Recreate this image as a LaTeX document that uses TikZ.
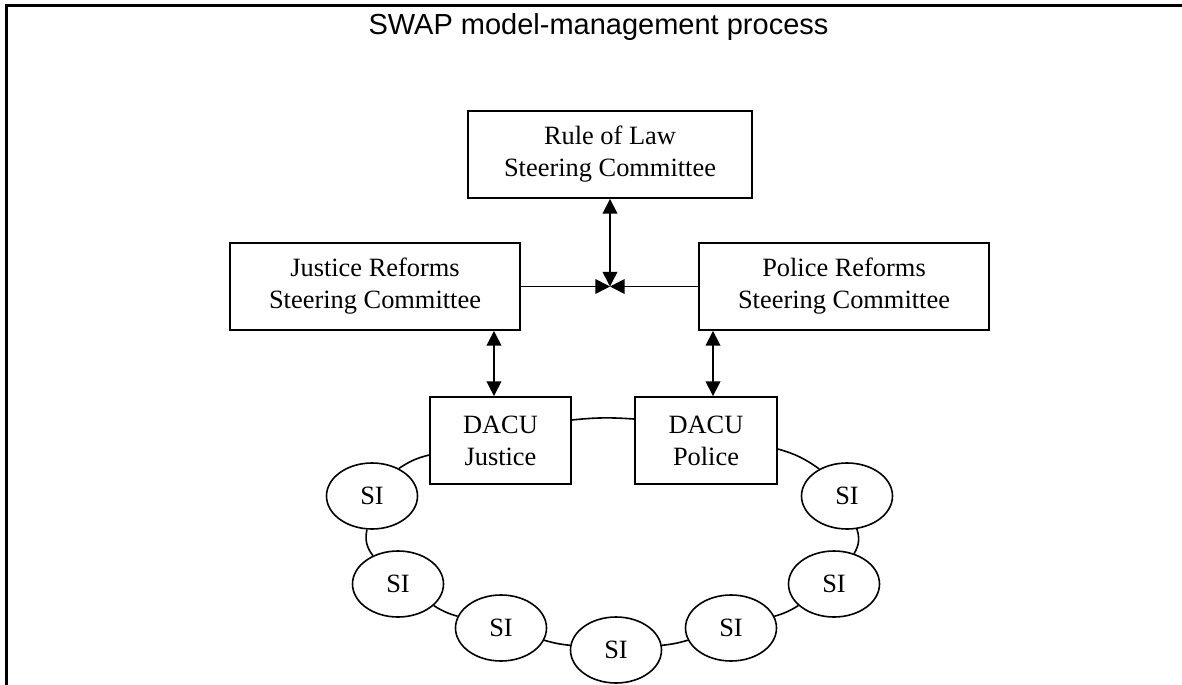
\documentclass[tikz,border=0pt]{standalone}
\usepackage{fontspec}
\setmainfont{Liberation Serif}
\newfontfamily\titlefont{Liberation Sans}
\usetikzlibrary{shapes.geometric,arrows.meta}
\begin{document}
\begin{tikzpicture}[x=0.75pt,y=-0.75pt,
  box/.style={draw, line width=1.4pt, rectangle, inner sep=0pt, align=center,
    font=\fontsize{19.8}{24}\selectfont, minimum height=65.25pt},
  si/.style={draw, ellipse, line width=1.2pt, inner sep=0pt, minimum width=68.25pt,
    minimum height=49.5pt, font=\fontsize{19.8}{24}\selectfont},
  dbl/.style={line width=1.2pt, {Triangle[length=11pt,width=11pt]}-{Triangle[length=11pt,width=11pt]}},
  one/.style={line width=1.2pt, -{Triangle[length=11pt,width=11pt]}},
  ring/.style={line width=1.2pt}]
\useasboundingbox (0,0) rectangle (1182,685);
\draw[line width=1.8pt, line join=miter] (6.5,685) -- (6.5,5.5) -- (1182,5.5);
\node[font=\titlefont\fontsize{21.75}{26}\selectfont, anchor=base] (title) at (598.5,35) {SWAP model-management process};
% boxes
\node[box, minimum width=213pt] (rule) at (610,154.5) {Rule of Law\\Steering Committee};
\node[box, minimum width=217.5pt] (just) at (375,286.5) {Justice Reforms\\Steering Committee};
\node[box, minimum width=217.5pt] (pol) at (844,286.5) {Police Reforms\\Steering Committee};
\node[box, minimum width=105.75pt] (dj) at (500.5,440.5) {DACU\\Justice};
\node[box, minimum width=106.5pt] (dp) at (706,440.5) {DACU\\Police};
% SI ellipses
\node[si] (s1) at (372,496) {SI};
\node[si] (s2) at (398,584) {SI};
\node[si] (s3) at (501,628) {SI};
\node[si] (s4) at (616,650) {SI};
\node[si] (s5) at (731,628) {SI};
\node[si] (s6) at (834,584) {SI};
\node[si] (s7) at (847,496) {SI};
% arrows
\coordinate (jn) at (610,286.5);
\draw[dbl] (rule.south) -- (jn);
\draw[one] (just.east) -- (jn);
\draw[one] (pol.west) -- (jn);
\draw[dbl] ([xshift=-4.9pt]dj.north) -- ([xshift=-4.9pt]dj.north |- just.south);
\draw[dbl] ([xshift=5.25pt]dp.north) -- ([xshift=5.25pt]dp.north |- pol.south);
% ring
\draw[ring] ([yshift=-10.9pt]dj.west) to[bend right=10] (s1);
\draw[ring] (s1) to[bend right=25] (s2);
\draw[ring] (s2) to[bend right=8] (s3);
\draw[ring] (s3) to[bend right=5] (s4);
\draw[ring] (s4) to[bend right=5] (s5);
\draw[ring] (s5) to[bend right=8] (s6);
\draw[ring] (s6) to[bend right=25] (s7);
\draw[ring] (s7) to[bend right=10] ([yshift=-6.4pt]dp.east);
\draw[ring] ([yshift=16.1pt]dp.west) to[bend right=5] ([yshift=15.4pt]dj.east);
\end{tikzpicture}
\end{document}
